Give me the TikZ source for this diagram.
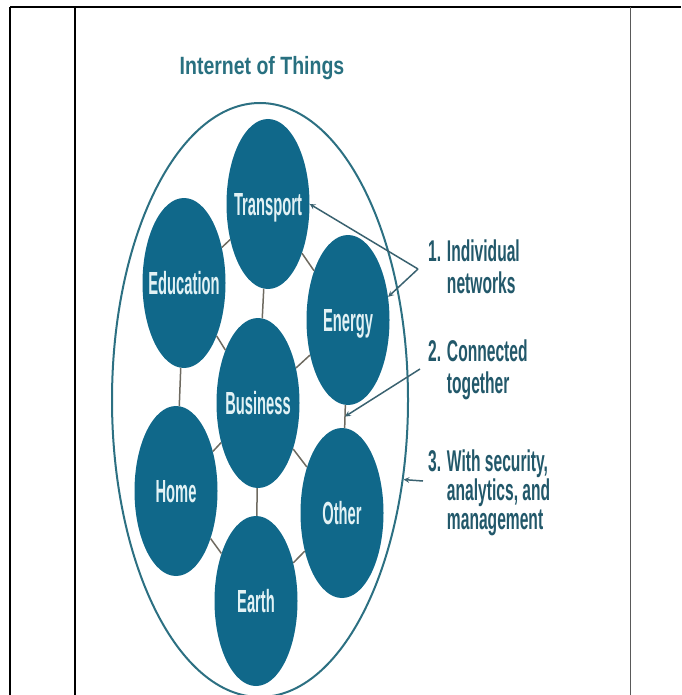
\documentclass[tikz,border=0pt]{standalone}
\usepackage{fontspec}
\setmainfont{Liberation Sans}
\newfontfamily\titlefont[FakeStretch=0.78]{Liberation Sans}
\newfontfamily\thingfont[FakeStretch=0.46]{Liberation Sans}
\newfontfamily\notefont[FakeStretch=0.52]{Liberation Sans}
\usetikzlibrary{shapes.geometric}
\definecolor{iotblue}{RGB}{16,104,138}
\definecolor{iottext}{RGB}{226,242,245}
\definecolor{iottitle}{RGB}{40,112,128}
\definecolor{iotnote}{RGB}{34,88,106}
\definecolor{iotring}{RGB}{44,112,130}
\definecolor{iotarrow}{RGB}{58,98,112}
\definecolor{iotlink}{RGB}{110,106,96}
\tikzset{
  thing/.style={ellipse,fill=iotblue,minimum width=83pt,minimum height=170pt,
    inner xsep=-16pt,text depth=0pt,text=iottext,
    font=\thingfont\bfseries\fontsize{32}{34}\selectfont},
  link/.style={draw=iotlink,line width=1.5pt},
  note/.style={anchor=north west,align=left,inner sep=0pt,text=iotnote,
    font=\notefont\bfseries\fontsize{30}{32}\selectfont},
  pointer/.style={draw=iotarrow,line width=1.5pt,->},
}
\begin{document}
\begin{tikzpicture}[x=1pt,y=-1pt,>=stealth]
  \useasboundingbox (0,0) rectangle (681,695);
  % frame
  \draw[line width=2.5pt] (10,7) -- (681,7);
  \draw[line width=1.5pt] (10,7) -- (10,695);
  \draw[line width=2.5pt] (75,7) -- (75,695);
  \draw[black!65,line width=1pt] (630,7) -- (630,695);

  \node[text=iottitle,font=\titlefont\bfseries\fontsize{25}{27}\selectfont,anchor=base] (title) at (262,75) {Internet of Things};
  \node[ellipse,draw=iotring,line width=2pt,minimum width=296pt,minimum height=594pt] (ring) at (260,400) {};

  \node[thing] (transport) at (268,204) {Transport};
  \node[thing] (education) at (184,283) {Education};
  \node[thing] (energy) at (348,320) {Energy};
  \node[thing] (business) at (258,403) {Business};
  \node[thing] (home) at (176,491) {Home};
  \node[thing] (other) at (342,513) {Other};
  \node[thing] (earth) at (256,601) {Earth};

  \foreach \a/\b in {transport/education,transport/business,transport/energy,
    education/business,education/home,business/energy,business/home,
    business/other,business/earth,home/earth,other/earth}
    \draw[link] (\a) -- (\b);
  \draw[link] (energy) -- coordinate (eo) (other);

  % call-outs
  \node[note] (net) at (428,240) {1. Individual\\\phantom{1. }networks};
  \node[note] (conn) at (428,340) {2. Connected\\\phantom{2. }together};
  \node[note,font=\notefont\bfseries\fontsize{30}{27}\selectfont] (mgmt) at (428,450)
    {3. With security,\\\phantom{3. }analytics, and\\\phantom{3. }management};

  \coordinate (fork) at (418,269);
  \draw[pointer] (fork) -- (transport.east);
  \draw[pointer] (fork) -- (energy.30);
  \coordinate (c2) at (420,369);
  \draw[pointer] (c2) -- (eo);
  \coordinate (c3) at (423,481);
  \draw[pointer] (c3) -- (ring.-29);
\end{tikzpicture}
\end{document}
